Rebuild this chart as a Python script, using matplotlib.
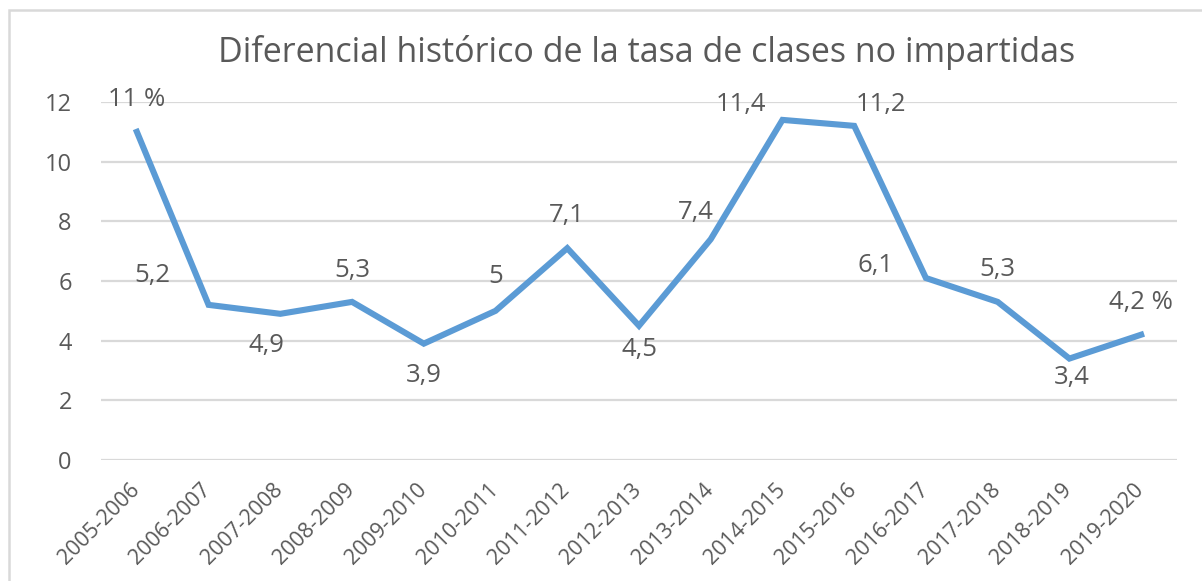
import matplotlib
matplotlib.use("Agg")
import matplotlib.pyplot as plt
from matplotlib.patches import Rectangle
from matplotlib.transforms import ScaledTranslation

categories = ["2005-2006", "2006-2007", "2007-2008", "2008-2009", "2009-2010",
              "2010-2011", "2011-2012", "2012-2013", "2013-2014", "2014-2015",
              "2015-2016", "2016-2017", "2017-2018", "2018-2019", "2019-2020"]
values = [11, 5.2, 4.9, 5.3, 3.9, 5, 7.1, 4.5, 7.4, 11.4, 11.2, 6.1, 5.3, 3.4, 4.2]
labels = ["11 %", "5,2", "4,9", "5,3", "3,9", "5", "7,1", "4,5", "7,4", "11,4",
          "11,2", "6,1", "5,3", "3,4", "4,2 %"]
yticks = [0, 2, 4, 6, 8, 10, 12]
title = "Diferencial histórico de la tasa de clases no impartidas"

# label offsets in pixels (dx, dy)
offsets = [(0, 32), (-56, 29), (-14, -32), (0, 31), (0, -32), (0, 34), (0, 33),
           (0, -24), (-15, 27), (-42, 15), (27, 21), (-50, 13), (0, 32), (2, -19),
           (0, 32)]

plt.rcParams['font.family'] = ['Open Sans', 'DejaVu Sans']
txt = '#595959'
grid = '#D9D9D9'
line = '#5B9BD5'

fig = plt.figure(figsize=(12.02, 5.81), dpi=100)
ax = fig.add_axes([101/1202, 1-460/581, (1177-101)/1202, (460-102)/581])

x = list(range(len(categories)))
ax.plot(x, values, color=line, lw=4.4, solid_joinstyle='miter', zorder=3)
ax.set_xlim(-0.5, len(categories)-0.5)
ax.set_ylim(0, 12)
ax.set_yticks(yticks)
ax.set_yticklabels([str(t) for t in yticks], fontsize=17, color=txt)
ax.yaxis.grid(True, color=grid, lw=1.6)
ax.set_axisbelow(True)
ax.tick_params(axis='y', length=0, pad=21)
ax.tick_params(axis='x', length=0, pad=14)
ax.set_xticks(x)
ax.set_xticklabels(categories, rotation=45, ha='right', rotation_mode='anchor',
                   fontsize=15.5, color=txt)
shift = ScaledTranslation(-8/100, 0, fig.dpi_scale_trans)
for t in ax.get_xticklabels():
    t.set_transform(t.get_transform() + shift)
for s in ax.spines.values():
    s.set_visible(False)

for xi, v, lab, (dx, dy) in zip(x, values, labels, offsets):
    ax.annotate(lab, (xi, v), xytext=(dx, dy), textcoords='offset pixels',
                ha='center', va='center', fontsize=18.5, color=txt)

fig.text(647/1202, 1-52/581, title, ha='center', va='center', fontsize=24.5, color=txt)

fig.patches.append(Rectangle((9/1202, -0.1), 1.2, 1-10/581+0.1,
                             transform=fig.transFigure, fill=False,
                             edgecolor=grid, lw=1.8))

fig.savefig("out.png", dpi=100)
